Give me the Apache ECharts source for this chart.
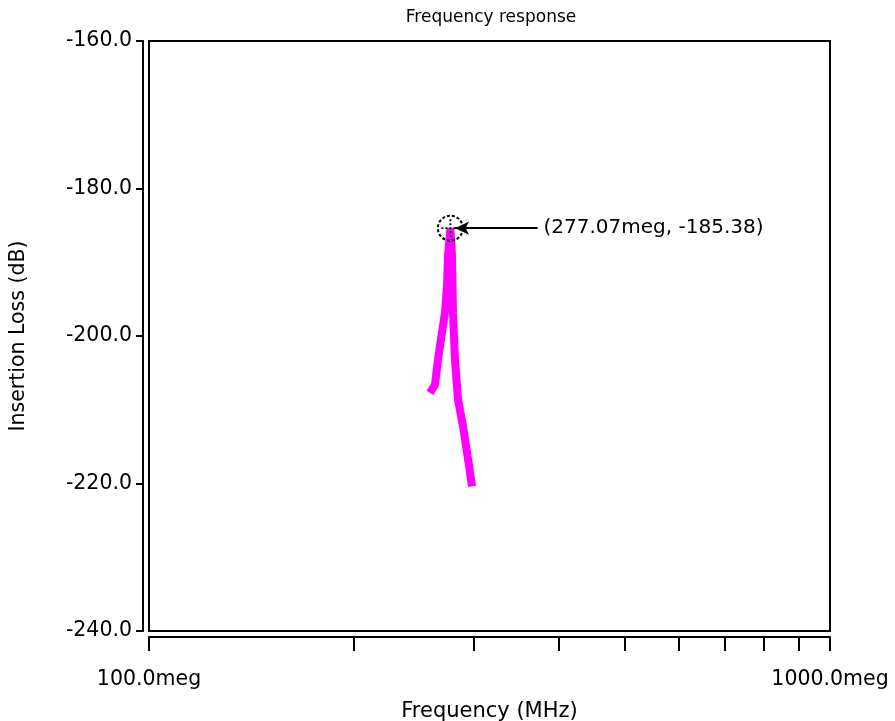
<!DOCTYPE html>
<html>
<head>
<meta charset="utf-8">
<script src="https://cdn.jsdelivr.net/npm/echarts@6/dist/echarts.min.js"></script>
<style>
  html, body { margin: 0; padding: 0; background: #fff; }
  #chart { width: 895px; height: 721px; }
</style>
</head>
<body>
<div id="chart"></div>
<script>
// frequency sweep (MHz) and insertion loss (dB)
const freqMHz = [258.6, 263.0, 265.7, 269.3, 272.1, 273.9, 274.8, 277.07, 278.6, 279.5, 281.4, 284.3, 289.2, 294.1, 298.1];
const lossDb = [-207.7, -206.6, -203.2, -199.5, -196.8, -193.3, -189.2, -185.38, -189.2, -196.8, -203.2, -208.6, -212.3, -216.7, -220.4];

const xTickValues = [100, 200, 300, 400, 500, 600, 700, 800, 900, 1000];
const xLabelValues = [100, 1000];
const yTickValues = [-240, -220, -200, -180, -160];

// marker annotation
const markerFreq = 277.07;
const markerLoss = -185.38;
const arrowStartFreq = 372;
const arrowEndFreq = 281.5;

const FONT = 'DejaVu Sans';
const chart = echarts.init(document.getElementById('chart'));

chart.setOption({
    animation: false,
    backgroundColor: '#fff',
    title: {
        text: 'Frequency response',
        left: 486, top: 4, textAlign: 'center',
        textStyle: { fontFamily: FONT, fontSize: 17, fontWeight: 'normal', color: '#000' }
    },
    grid: {
        left: 149, right: 65, top: 41, bottom: 90,
        outerBoundsMode: 'none',
        show: true, borderColor: '#000', borderWidth: 2, backgroundColor: 'transparent'
    },
    xAxis: {
        type: 'log', logBase: 10, min: 100, max: 1000,
        offset: 6,
        name: 'Frequency (MHz)', nameLocation: 'middle', nameGap: 64,
        nameTextStyle: { fontFamily: FONT, fontSize: 21, color: '#000' },
        axisLine: { show: true, lineStyle: { color: '#000', width: 2 } },
        axisTick: { show: true, length: 14, customValues: xTickValues, lineStyle: { color: '#000', width: 2 } },
        axisLabel: {
            customValues: xLabelValues, margin: 32,
            fontFamily: FONT, fontSize: 20.5, color: '#000',
            formatter: v => v.toFixed(1) + 'meg'
        },
        minorTick: { show: false },
        splitLine: { show: false }
    },
    yAxis: {
        type: 'value', min: -240, max: -160, interval: 20,
        offset: 6,
        name: 'Insertion Loss (dB)', nameLocation: 'middle', nameGap: 114,
        nameTextStyle: { fontFamily: FONT, fontSize: 20.5, color: '#000' },
        axisLine: { show: true, lineStyle: { color: '#000', width: 2 } },
        axisTick: { show: true, length: 7, customValues: yTickValues, lineStyle: { color: '#000', width: 2 } },
        axisLabel: {
            margin: 11, fontFamily: FONT, fontSize: 20.5, color: '#000',
            formatter: v => v.toFixed(1)
        },
        splitLine: { show: false }
    },
    series: [
        {
            name: 'Insertion Loss',
            type: 'line',
            data: freqMHz.map((f, i) => [f, lossDb[i]]),
            showSymbol: false,
            lineStyle: { color: '#ff00ff', width: 8 },
            z: 2
        },
        {
            name: 'marker',
            type: 'scatter',
            data: [[markerFreq, markerLoss]],
            symbol: 'circle', symbolSize: 25,
            itemStyle: { color: 'transparent', borderColor: '#000', borderWidth: 2, borderType: [3, 2], opacity: 1 },
            z: 3,
            markLine: {
                silent: true,
                symbol: ['none', 'arrow'], symbolSize: [10, 14],
                label: {
                    show: true, position: 'start', distance: 6,
                    fontFamily: FONT, fontSize: 20, color: '#000',
                    formatter: () => '(' + markerFreq.toFixed(2) + 'meg, ' + markerLoss.toFixed(2) + ')'
                },
                lineStyle: { color: '#000', width: 1.8, type: 'solid' },
                data: [[{ coord: [arrowStartFreq, markerLoss] }, { coord: [arrowEndFreq, markerLoss] }]]
            }
        },
        {
            name: 'crosshair',
            type: 'scatter',
            data: [[markerFreq, markerLoss]],
            symbol: 'path://M10,0L10,20M0,10L20,10', symbolSize: 18,
            itemStyle: { color: 'none', borderColor: '#000', borderWidth: 1.8, borderType: [2, 2], opacity: 1 },
            z: 4
        }
    ]
});
</script>
</body>
</html>
